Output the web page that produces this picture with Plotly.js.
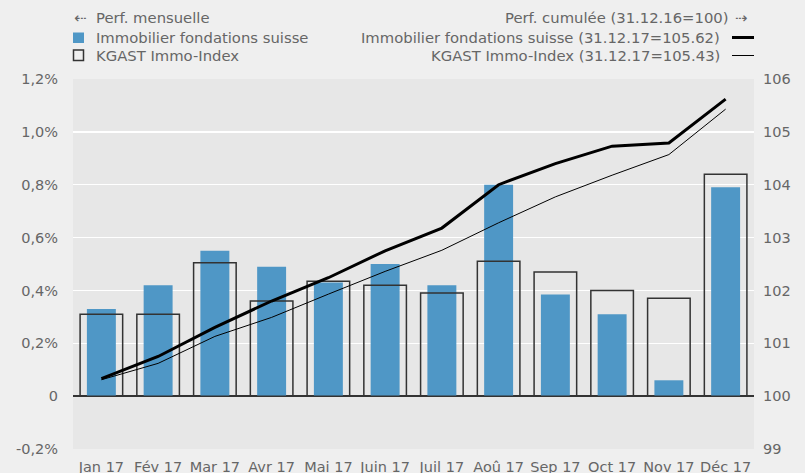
<!DOCTYPE html>
<html>
<head>
<meta charset="utf-8">
<script src="https://cdn.plot.ly/plotly-3.0.1.min.js"></script>
<style>html,body{margin:0;padding:0;background:#efefef;}#chart{width:805px;height:473px;}</style>
</head>
<body>
<div id="chart"></div>
<script>
// ---- data ----
const months = ["Jan 17","Fév 17","Mar 17","Avr 17","Mai 17","Juin 17","Juil 17","Aoû 17","Sep 17","Oct 17","Nov 17","Déc 17"];
const ifsMonthly = [0.33,0.42,0.55,0.49,0.43,0.50,0.42,0.80,0.385,0.31,0.06,0.79];
const kgastMonthly = [0.31,0.31,0.505,0.36,0.435,0.42,0.39,0.51,0.47,0.40,0.37,0.84];
const ifsCumul = [100.33,100.75,101.30,101.80,102.24,102.75,103.18,104.00,104.40,104.73,104.79,105.62];
const kgastCumul = [100.31,100.62,101.13,101.49,101.93,102.36,102.76,103.28,103.77,104.18,104.57,105.43];
const leftTickVals = [-0.2,0,0.2,0.4,0.6,0.8,1.0,1.2];
const leftTickText = ["-0,2%","0","0,2%","0,4%","0,6%","0,8%","1,0%","1,2%"];
const rightTickVals = [99,100,101,102,103,104,105,106];

// ---- layout helpers (pixel -> paper) ----
const L=73, R=754, T=79, B=449;
const px = x => (x-L)/(R-L);
const py = y => (B-y)/(B-T);
const FONT = "DejaVu Sans, Verdana, sans-serif";
const GREY = "#666";
const BLUE = "#4f97c6";

const traces = [
  {type:"bar", x:months, y:ifsMonthly, width:0.51, marker:{color:BLUE, line:{width:0}}, hoverinfo:"none"},
  {type:"bar", x:months, y:kgastMonthly, width:0.75, marker:{color:"rgba(0,0,0,0)", line:{color:"#333", width:1.5}}, hoverinfo:"none"},
  {type:"scatter", mode:"lines", x:months, y:ifsCumul, yaxis:"y2", line:{color:"#000", width:3}, hoverinfo:"none"},
  {type:"scatter", mode:"lines", x:months, y:kgastCumul, yaxis:"y2", line:{color:"#000", width:1}, hoverinfo:"none"}
];

const txt = (text, x, y, xanchor) => ({text:text, xref:"paper", yref:"paper", x:px(x), y:py(y), xanchor:xanchor, yanchor:"middle", showarrow:false, font:{family:FONT, size:14.8, color:GREY}});

const layout = {
  width:805, height:473,
  margin:{l:L, r:805-R, t:T, b:473-B, pad:0},
  paper_bgcolor:"#efefef",
  plot_bgcolor:"#e7e7e7",
  barmode:"overlay",
  showlegend:false,
  font:{family:FONT, size:14.5, color:GREY},
  xaxis:{type:"category", showgrid:false, zeroline:false, showline:false, ticks:"outside", ticklen:5, tickcolor:"rgba(0,0,0,0)", tickfont:{family:FONT, size:14.5, color:GREY}, range:[-0.5,11.5]},
  yaxis:{range:[-0.2,1.2], tickvals:leftTickVals, ticktext:leftTickText, showgrid:true, gridcolor:"#ffffff", gridwidth:1.5, zeroline:true, zerolinecolor:"#333", zerolinewidth:1.5, showline:false, ticks:"", ticklabelstandoff:14, tickfont:{family:FONT, size:14.5, color:GREY}},
  yaxis2:{overlaying:"y", side:"right", range:[99,106], tickvals:rightTickVals, showgrid:false, zeroline:false, showline:false, ticks:"", ticklabelstandoff:8, tickfont:{family:FONT, size:14.5, color:GREY}},
  annotations:[
    txt("⇠", 72, 18, "left"),
    txt("Perf. mensuelle", 94, 18, "left"),
    txt("Immobilier fondations suisse", 94, 37, "left"),
    txt("KGAST Immo-Index", 94, 55, "left"),
    txt("Perf. cumulée (31.12.16=100)", 731, 18, "right"),
    txt("⇢", 733, 18, "left"),
    txt("Immobilier fondations suisse (31.12.17=105.62)", 722, 37, "right"),
    txt("KGAST Immo-Index (31.12.17=105.43)", 722, 55, "right")
  ],
  shapes:[
    {type:"rect", xref:"paper", yref:"paper", x0:px(73), x1:px(84), y0:py(43), y1:py(32.5), fillcolor:BLUE, line:{width:0}},
    {type:"rect", xref:"paper", yref:"paper", x0:px(73.5), x1:px(83.5), y0:py(60.5), y1:py(50), fillcolor:"rgba(0,0,0,0)", line:{color:"#333", width:1.5}},
    {type:"line", xref:"paper", yref:"paper", x0:px(732), x1:px(754), y0:py(37.5), y1:py(37.5), line:{color:"#000", width:3}},
    {type:"line", xref:"paper", yref:"paper", x0:px(732), x1:px(754), y0:py(55.5), y1:py(55.5), line:{color:"#000", width:1}}
  ]
};

Plotly.newPlot("chart", traces, layout, {staticPlot:true, displayModeBar:false});
</script>
</body>
</html>
